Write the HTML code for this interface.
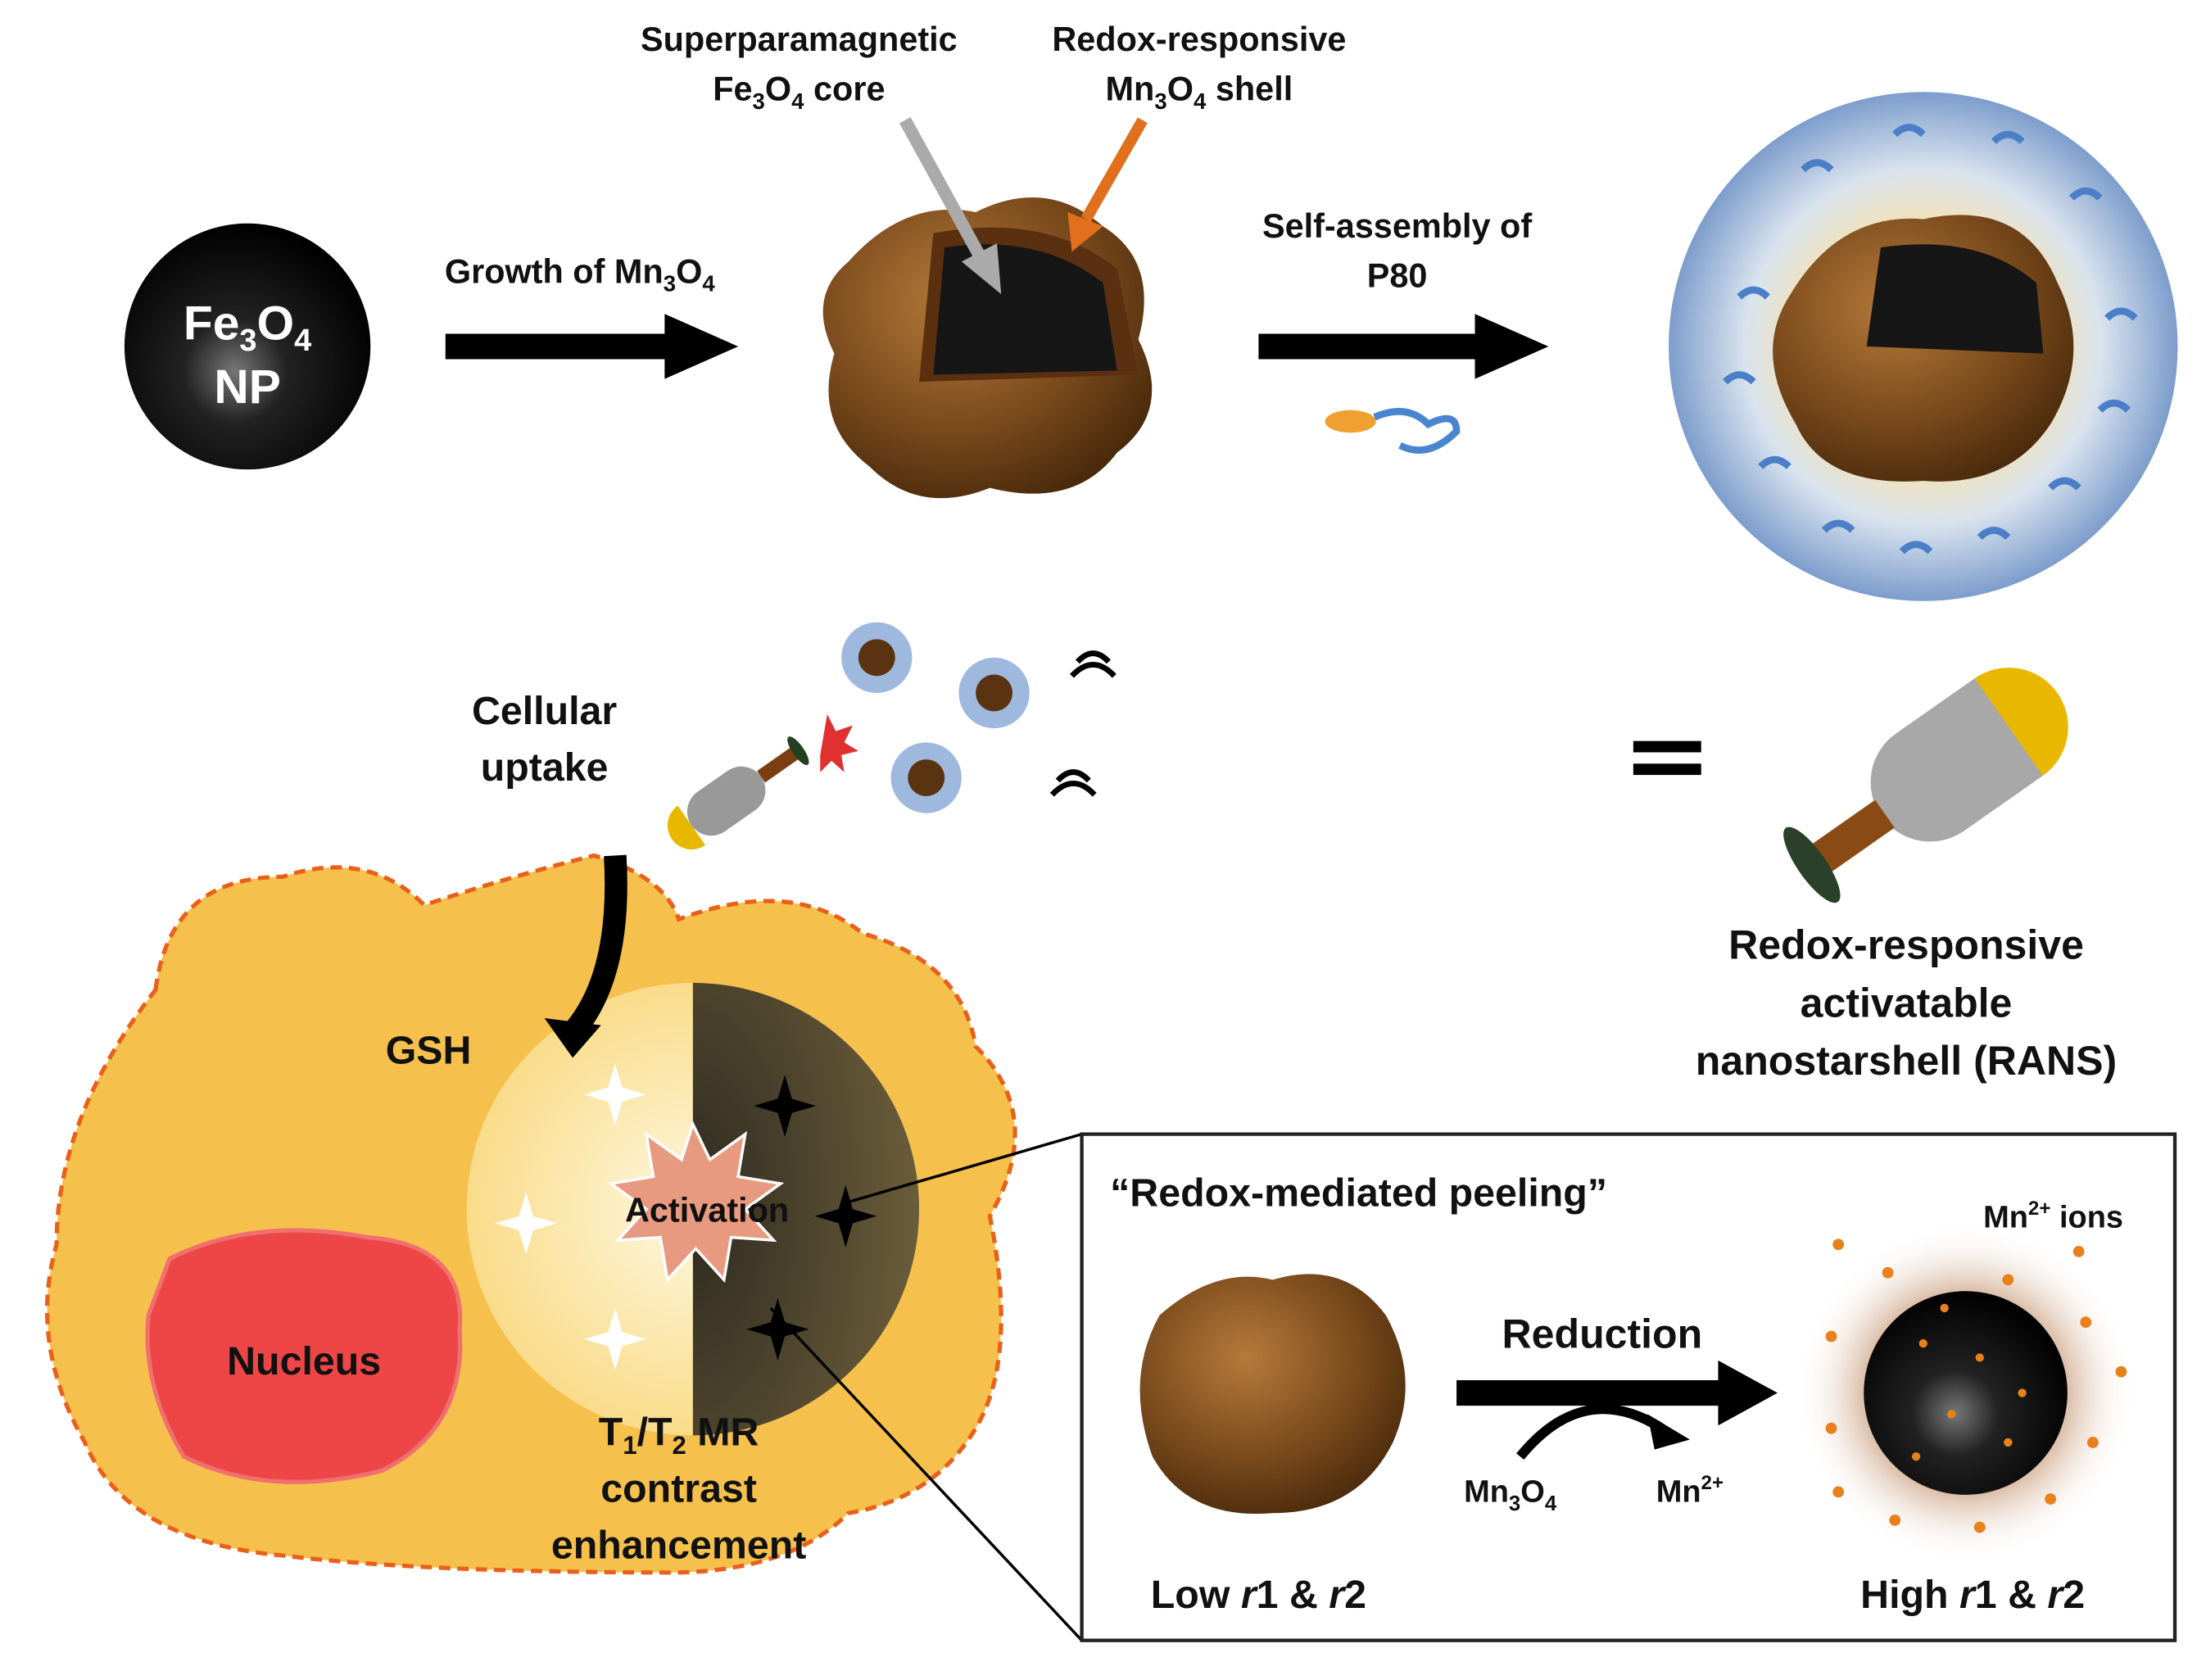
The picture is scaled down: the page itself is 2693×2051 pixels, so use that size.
<!DOCTYPE html>
<html><head><meta charset="utf-8">
<style>
html,body{margin:0;padding:0;background:#fff;}
svg{display:block;}
text{font-family:"Liberation Sans",Arial,sans-serif;font-weight:bold;fill:#111;}
</style></head>
<body>
<svg width="2693" height="2051" viewBox="0 0 1560 1188" preserveAspectRatio="none" xmlns="http://www.w3.org/2000/svg">
<defs>
<radialGradient id="blk" cx="0.45" cy="0.6" r="0.6"><stop offset="0" stop-color="#777"/><stop offset="0.35" stop-color="#222"/><stop offset="1" stop-color="#000"/></radialGradient>
<radialGradient id="brn" cx="0.4" cy="0.35" r="0.7"><stop offset="0" stop-color="#b57a3a"/><stop offset="0.6" stop-color="#7a4a1c"/><stop offset="1" stop-color="#4a2a0c"/></radialGradient>
<radialGradient id="blu" cx="0.5" cy="0.5" r="0.5"><stop offset="0.45" stop-color="#f6e2b0"/><stop offset="0.7" stop-color="#d9e3ee"/><stop offset="1" stop-color="#7d9dcc"/></radialGradient>
<radialGradient id="lit" cx="0.5" cy="0.5" r="0.5"><stop offset="0" stop-color="#fff8e0"/><stop offset="1" stop-color="#f9dc8a"/></radialGradient>
<radialGradient id="drk" cx="0" cy="0.5" r="1"><stop offset="0" stop-color="#2e2a20"/><stop offset="1" stop-color="#6b5d3a"/></radialGradient>
<radialGradient id="halo" cx="0.5" cy="0.5" r="0.5"><stop offset="0.5" stop-color="#c79a78"/><stop offset="1" stop-color="#fff" stop-opacity="0"/></radialGradient>
</defs>

<circle cx="175" cy="245" r="87" fill="url(#blk)"/>
<text x="175" y="240" text-anchor="middle" font-size="34" style="fill:#fff">Fe<tspan font-size="22" dy="8">3</tspan><tspan dy="-8">O</tspan><tspan font-size="22" dy="8">4</tspan></text>
<text x="175" y="285" text-anchor="middle" font-size="34" style="fill:#fff">NP</text>

<text x="410" y="200" text-anchor="middle" font-size="24">Growth of Mn<tspan font-size="16" dy="6">3</tspan><tspan dy="-6">O</tspan><tspan font-size="16" dy="6">4</tspan></text>
<path d="M315,236 H470 V222 L522,245 L470,268 V254 H315z" fill="#000"/>

<path d="M600,185 Q640,140 690,150 Q740,125 780,160 Q820,185 805,240 Q830,290 790,320 Q760,360 700,345 Q650,365 615,330 Q575,300 590,250 Q570,210 600,185z" fill="url(#brn)"/>
<path d="M650,270 L660,165 Q740,150 790,190 L805,265z" fill="#5a3010"/>
<path d="M660,265 L668,175 Q735,165 780,200 L790,262z" fill="#161616"/>
<text x="565" y="36" text-anchor="middle" font-size="24">Superparamagnetic</text>
<text x="565" y="71" text-anchor="middle" font-size="24">Fe<tspan font-size="16" dy="6">3</tspan><tspan dy="-6">O</tspan><tspan font-size="16" dy="6">4</tspan><tspan dy="-6"> core</tspan></text>
<text x="848" y="36" text-anchor="middle" font-size="24">Redox-responsive</text>
<text x="848" y="71" text-anchor="middle" font-size="24">Mn<tspan font-size="16" dy="6">3</tspan><tspan dy="-6">O</tspan><tspan font-size="16" dy="6">4</tspan><tspan dy="-6"> shell</tspan></text>
<line x1="640" y1="85" x2="695" y2="185" stroke="#aaa" stroke-width="9"/>
<path d="M680,185 L708,208 L705,172z" fill="#aaa"/>
<line x1="808" y1="85" x2="768" y2="155" stroke="#e0701c" stroke-width="8"/>
<path d="M755,150 L758,178 L780,160z" fill="#e0701c"/>

<text x="988" y="168" text-anchor="middle" font-size="24">Self-assembly of</text>
<text x="988" y="203" text-anchor="middle" font-size="24">P80</text>
<path d="M890,236 H1043 V222 L1095,245 L1043,268 V254 H890z" fill="#000"/>
<ellipse cx="955" cy="298" rx="18" ry="8" fill="#f0a030"/>
<path d="M972,295 Q995,285 1010,300 Q1030,290 1030,305 Q1010,325 990,315" stroke="#4a86d0" stroke-width="5" fill="none"/>

<circle cx="1360" cy="245" r="180" fill="url(#blu)"/>
<path d="M1265,210 Q1300,150 1360,155 Q1430,140 1455,200 Q1480,250 1450,300 Q1420,345 1360,340 Q1290,345 1270,300 Q1240,250 1265,210z" fill="url(#brn)"/>
<path d="M1320,245 L1330,175 Q1400,165 1440,200 L1445,250z" fill="#161616"/>
<g stroke="#4a7fc8" stroke-width="5" fill="none">
<path d="M1230,210 q10,-10 20,0"/><path d="M1220,270 q10,-10 20,0"/><path d="M1245,330 q10,-10 20,0"/><path d="M1290,375 q10,-10 20,0"/><path d="M1345,390 q10,-10 20,0"/><path d="M1400,380 q10,-10 20,0"/><path d="M1450,345 q10,-10 20,0"/><path d="M1485,290 q10,-10 20,0"/><path d="M1490,225 q10,-10 20,0"/><path d="M1465,140 q10,-10 20,0"/><path d="M1410,100 q10,-10 20,0"/><path d="M1340,95 q10,-10 20,0"/><path d="M1275,120 q10,-10 20,0"/>
</g>

<g>
<circle cx="620" cy="465" r="25" fill="#9fb9de"/><circle cx="620" cy="465" r="13" fill="#5a3410"/>
<circle cx="703" cy="490" r="25" fill="#9fb9de"/><circle cx="703" cy="490" r="13" fill="#5a3410"/>
<circle cx="655" cy="550" r="25" fill="#9fb9de"/><circle cx="655" cy="550" r="13" fill="#5a3410"/>
</g>
<path d="M762,468 q11,-12 22,0 M758,478 q15,-16 30,0" stroke="#000" stroke-width="4" fill="none"/>
<path d="M748,552 q11,-12 22,0 M744,562 q15,-16 30,0" stroke="#000" stroke-width="4" fill="none"/>
<text x="385" y="512" text-anchor="middle" font-size="28">Cellular</text>
<text x="385" y="552" text-anchor="middle" font-size="28">uptake</text>
<g transform="translate(530,555) rotate(-35)">
<rect x="-50" y="-17" width="60" height="34" rx="17" fill="#999"/>
<path d="M-50,-17 a17,17 0 0,0 0,34z" fill="#e8b800"/>
<rect x="10" y="-5" width="30" height="10" fill="#7a3e10"/>
<ellipse cx="42" cy="0" rx="4" ry="12" fill="#234020"/>
</g>
<path d="M585,505 l6,12 l12,-4 l-6,12 l10,6 l-12,3 l2,12 l-9,-8 l-8,8 l0,-12" fill="#e03030"/>

<rect x="1155" y="524" width="48" height="8" fill="#000"/><rect x="1155" y="540" width="48" height="8" fill="#000"/>
<g transform="translate(1355,560) rotate(-35)">
<rect x="-30" y="-42" width="150" height="84" rx="42" fill="#a8a8a8"/>
<path d="M80,-42 a42,42 0 0,1 0,84z" fill="#e8b800"/>
<rect x="-85" y="-12" width="58" height="24" fill="#8a4a14"/>
<ellipse cx="-90" cy="0" rx="10" ry="32" fill="#2a4028"/>
</g>
<text x="1348" y="678" text-anchor="middle" font-size="29">Redox-responsive</text>
<text x="1348" y="719" text-anchor="middle" font-size="29">activatable</text>
<text x="1348" y="760" text-anchor="middle" font-size="29">nanostarshell (RANS)</text>

<path d="M110,700 Q120,620 200,620 Q260,600 300,640 Q360,620 420,605 Q470,620 480,650 Q560,620 610,660 Q680,680 690,740 Q740,790 700,860 Q720,960 690,1010 Q660,1060 600,1070 Q560,1110 480,1112 Q300,1112 200,1100 Q90,1090 60,1020 Q20,950 40,880 Q40,790 110,700z" fill="#f5c04c" stroke="#e8601c" stroke-width="3" stroke-dasharray="8,5"/>
<circle cx="490" cy="855" r="160" fill="url(#lit)"/>
<path d="M490,695 A160,160 0 0,1 490,1015z" fill="url(#drk)"/>
<path d="M490,795 l12,25 25,-18 -5,30 30,5 -25,18 20,22 -30,-2 -5,30 -20,-22 -20,22 -5,-30 -30,2 20,-22 -25,-18 30,-5 -5,-30 25,18z" fill="#e89a80" stroke="#fff" stroke-width="2"/>
<g fill="#fff"><path d="M435,752 l5,17 17,5 -17,5 -5,17 -5,-17 -17,-5 17,-5z"/><path d="M372,843 l5,17 17,5 -17,5 -5,17 -5,-17 -17,-5 17,-5z"/><path d="M435,925 l5,17 17,5 -17,5 -5,17 -5,-17 -17,-5 17,-5z"/></g>
<g fill="#000"><path d="M555,760 l5,17 17,5 -17,5 -5,17 -5,-17 -17,-5 17,-5z"/><path d="M598,838 l5,17 17,5 -17,5 -5,17 -5,-17 -17,-5 17,-5z"/><path d="M550,918 l5,17 17,5 -17,5 -5,17 -5,-17 -17,-5 17,-5z"/></g>
<text x="500" y="864" text-anchor="middle" font-size="24">Activation</text>
<path d="M435,605 Q440,690 405,730" stroke="#000" stroke-width="16" fill="none"/>
<path d="M385,720 L405,748 L425,725z" fill="#000"/>
<text x="303" y="752" text-anchor="middle" font-size="28">GSH</text>
<path d="M120,890 Q180,860 260,875 Q330,880 325,940 Q330,1010 270,1040 Q190,1060 130,1030 Q100,980 105,930z" fill="#ee4646" stroke="#f07070" stroke-width="3"/>
<text x="215" y="972" text-anchor="middle" font-size="28">Nucleus</text>
<text x="480" y="1022" text-anchor="middle" font-size="28">T<tspan font-size="18" dy="6">1</tspan><tspan dy="-6">/T</tspan><tspan font-size="18" dy="6">2</tspan><tspan dy="-6"> MR</tspan></text>
<text x="480" y="1062" text-anchor="middle" font-size="28">contrast</text>
<text x="480" y="1102" text-anchor="middle" font-size="28">enhancement</text>

<line x1="600" y1="850" x2="765" y2="802" stroke="#000" stroke-width="2"/>
<line x1="545" y1="925" x2="765" y2="1160" stroke="#000" stroke-width="2"/>
<rect x="765" y="802" width="773" height="358" fill="#fff" stroke="#222" stroke-width="2.5"/>
<text x="785" y="853" font-size="28">“Redox-mediated peeling”</text>
<path d="M820,930 Q860,895 900,905 Q950,890 980,930 Q1005,975 985,1020 Q960,1070 900,1070 Q840,1075 815,1030 Q795,975 820,930z" fill="url(#brn)"/>
<text x="890" y="1137" text-anchor="middle" font-size="28">Low <tspan font-style="italic">r</tspan>1 &amp; <tspan font-style="italic">r</tspan>2</text>
<text x="1133" y="953" text-anchor="middle" font-size="29">Reduction</text>
<path d="M1030,976 H1215 V962 L1257,985 L1215,1008 V994 H1030z" fill="#000"/>
<path d="M1075,1030 Q1120,975 1175,1010" stroke="#000" stroke-width="7" fill="none"/>
<path d="M1165,1000 L1195,1018 L1170,1025z" fill="#000"/>
<text x="1068" y="1062" text-anchor="middle" font-size="22">Mn<tspan font-size="15" dy="6">3</tspan><tspan dy="-6">O</tspan><tspan font-size="15" dy="6">4</tspan></text>
<text x="1195" y="1062" text-anchor="middle" font-size="22">Mn<tspan font-size="14" dy="-9">2+</tspan></text>
<circle cx="1390" cy="985" r="120" fill="url(#halo)"/>
<circle cx="1390" cy="985" r="72" fill="url(#blk)"/>
<g fill="#e8801c">
<circle cx="1300" cy="880" r="4"/><circle cx="1335" cy="900" r="4"/><circle cx="1420" cy="905" r="4"/><circle cx="1470" cy="885" r="4"/><circle cx="1295" cy="945" r="4"/><circle cx="1295" cy="1010" r="4"/><circle cx="1300" cy="1055" r="4"/><circle cx="1340" cy="1075" r="4"/><circle cx="1400" cy="1080" r="4"/><circle cx="1450" cy="1060" r="4"/><circle cx="1480" cy="1020" r="4"/><circle cx="1500" cy="970" r="4"/><circle cx="1475" cy="935" r="4"/><circle cx="1360" cy="950" r="3"/><circle cx="1400" cy="960" r="3"/><circle cx="1380" cy="1000" r="3"/><circle cx="1420" cy="1020" r="3"/><circle cx="1355" cy="1030" r="3"/><circle cx="1430" cy="985" r="3"/><circle cx="1375" cy="925" r="3"/>
</g>
<text x="1452" y="868" text-anchor="middle" font-size="22">Mn<tspan font-size="14" dy="-9">2+</tspan><tspan dy="9"> ions</tspan></text>
<text x="1395" y="1137" text-anchor="middle" font-size="28">High <tspan font-style="italic">r</tspan>1 &amp; <tspan font-style="italic">r</tspan>2</text>
</svg>
</body></html>
